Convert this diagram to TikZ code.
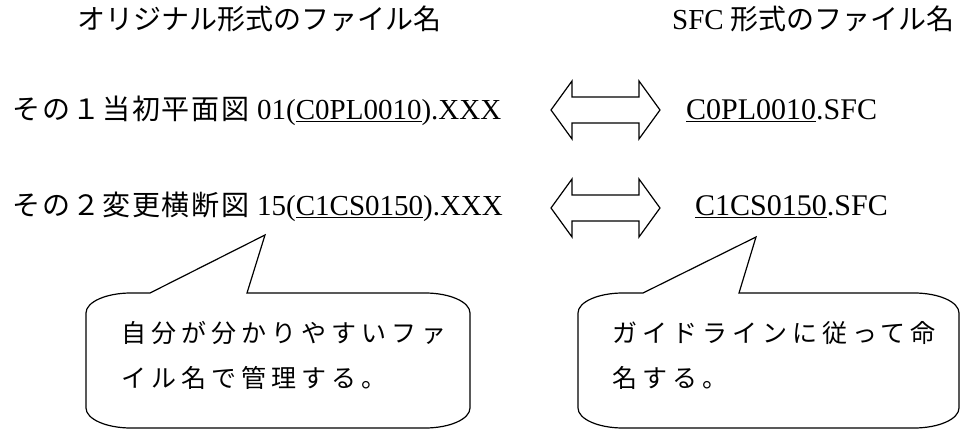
\documentclass[tikz,border=0pt]{standalone}
\usepackage{fontspec}
\setmainfont{Liberation Serif}
\newfontfamily\jp{Noto Sans CJK JP}
\newfontfamily\jprow[LetterSpace=7]{Noto Sans CJK JP}
\newfontfamily\jpsp[LetterSpace=20]{Noto Sans CJK JP}
\begin{document}
\begin{tikzpicture}[x=1pt,y=-1pt,
  lbl/.style={inner sep=0pt,anchor=base west,font=\fontsize{28}{34}\selectfont},
  bub/.style={inner sep=0pt,anchor=base west,font=\fontsize{25}{30}\selectfont\jpsp},
  shapeline/.style={draw=black,line width=1.2pt,line join=miter,fill=white}]
\useasboundingbox (0,0) rectangle (972,430);
\fill[white] (0,0) rectangle (972,430);

% headers
\node[lbl] (hl) at (77,30) {\jp オリジナル形式のファイル名};
\node[lbl] (hr) at (672,30) {{\fontsize{29}{34}\selectfont SFC} {\jp 形式のファイル名}};

% rows
\node[lbl] (r1) at (12,120) {{\jprow その１当初平面図}{\fontsize{29}{34}\selectfont\ 01(\underline{C0PL0010}).XXX}};
\node[lbl] (r2) at (12,216) {{\jprow その２変更横断図}{\fontsize{29}{34}\selectfont\ 15(\underline{C1CS0150}).XXX}};
\node[lbl] (s1) at (686,120) {\fontsize{30}{34}\selectfont\underline{C0PL0010}.SFC};
\node[lbl] (s2) at (695,216) {\fontsize{30}{34}\selectfont\underline{C1CS0150}.SFC};

% double arrows
\foreach \yy in {110,208}{
  \draw[shapeline] (551,\yy) -- (572,\yy-29) -- (572,\yy-13) -- (639,\yy-13) -- (639,\yy-29)
    -- (660,\yy) -- (639,\yy+29) -- (639,\yy+13) -- (572,\yy+13) -- (572,\yy+29) -- cycle;
}

% left callout
\draw[shapeline] (150,293) -- (265,235) -- (247,293) -- (425,293)
  .. controls (450,293) and (470,302) .. (470,313) -- (470,408)
  .. controls (470,419) and (450,428) .. (425,428) -- (131,428)
  .. controls (106,428) and (86,419) .. (86,408) -- (86,313)
  .. controls (86,302) and (106,293) .. (131,293) -- cycle;
% right callout
\draw[shapeline] (643,293) -- (756,237) -- (739,293) -- (914,293)
  .. controls (939,293) and (959,302) .. (959,313) -- (959,408)
  .. controls (959,419) and (939,428) .. (914,428) -- (623,428)
  .. controls (598,428) and (578,419) .. (578,408) -- (578,313)
  .. controls (578,302) and (598,293) .. (623,293) -- cycle;

\node[bub] (b1a) at (121,342) {自分が分かりやすいファ};
\node[bub] (b1b) at (121,387) {イル名で管理する。};
\node[bub] (b2a) at (612,342) {ガイドラインに従って命};
\node[bub] (b2b) at (612,387) {名する。};
\end{tikzpicture}
\end{document}
